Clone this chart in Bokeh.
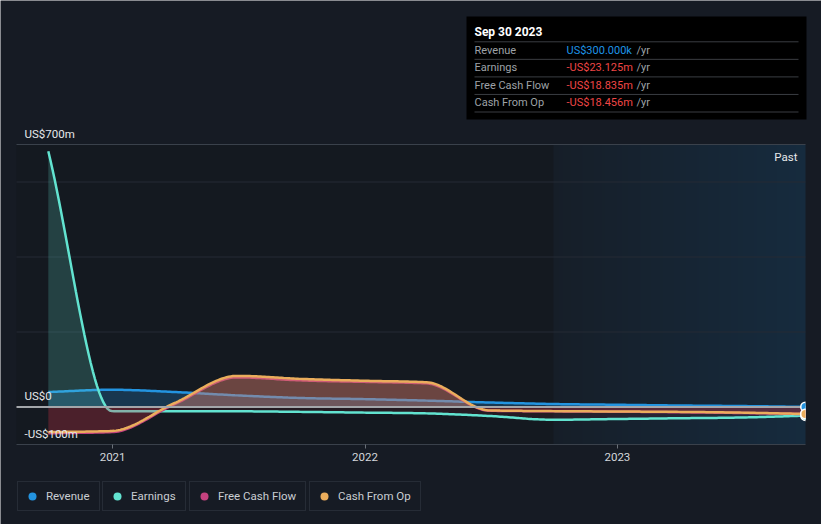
import numpy as np
import pandas as pd
from bokeh.plotting import figure
from bokeh.models import (Range1d, FixedTicker, Legend, LegendItem,
                          DatetimeTickFormatter)
from bokeh.core.properties import value
from bokeh.embed import file_html
from bokeh.resources import INLINE

# ------------------------------------------------------------------ data
quarter_ends = ["2020-09-30", "2020-12-31", "2021-03-31", "2021-06-30",
                "2021-09-30", "2021-12-31", "2022-03-31", "2022-06-30",
                "2022-09-30", "2022-12-31", "2023-03-31", "2023-06-30",
                "2023-09-30"]
revenue = [40, 46, 40, 31, 24, 21, 17, 12, 8, 6, 4, 2.5, 0.3]
earnings = [682, -11, -11.5, -11.5, -13, -15, -17, -24, -34, -32, -30, -28, -23.125]
free_cash_flow = [-70, -67, 7, 79, 71, 67, 63, -10, -11.5, -12.5, -14, -16, -18.835]
cash_from_op = [-67, -64, 10, 83, 75, 70, 66, -9, -11, -12, -13, -15, -18.456]
series_names = ["Revenue", "Earnings", "Free Cash Flow", "Cash From Op"]

y_label_values = [700, 0, -100]
y_label_texts = ["US$700m", "US$0", "-US$100m"]
y_grid_values = [200, 400, 600]
x_tick_years = [2021, 2022, 2023]
x_range_dates = ["2020-08-15", "2023-09-30"]
past_start_date = "2022-09-30"

tooltip_date = "Sep 30 2023"
tooltip_values = ["US$300.000k", "-US$23.125m", "-US$18.835m", "-US$18.456m"]
tooltip_unit = "/yr"

# ------------------------------------------------------------------ style / layout
BG = "#161b24"
PLOT_BG = (20, 25, 32)
PAST_LEFT = (22, 30, 40)
PAST_RIGHT = (22, 43, 62)
COLORS = {"Revenue": "#2394e0", "Earnings": "#62e3d0",
          "Free Cash Flow": "#c4427f", "Cash From Op": "#eaad5c"}
NEG_FILL = "#e0394a"
FONT = "Roboto"

W, H = 821, 524
PLOT_L, PLOT_R = 16, 805                  # pixel columns of the plotting area
PLOT_TOP, PLOT_BOTTOM = 144, 444          # pixel rows of the 700 and -100 lines
Y_MIN, Y_MAX = -100, 700
ppu = (PLOT_BOTTOM - PLOT_TOP) / (Y_MAX - Y_MIN)
y_start = Y_MIN - (H - PLOT_BOTTOM) / ppu
y_end = Y_MAX + PLOT_TOP / ppu


def to_ms(d):
    return pd.to_datetime(d).value / 1e6


x_dates = np.array([to_ms(d) for d in quarter_ends])
x_lo, x_hi = to_ms(x_range_dates[0]), to_ms(x_range_dates[1])
mpp = (x_hi - x_lo) / (PLOT_R - PLOT_L)
x_start = x_lo - PLOT_L * mpp
x_end = x_hi + (W - PLOT_R) * mpp


def smooth_curve(xs, ys, steps=30):
    """Monotone cubic rendering of the polyline (d3 monotoneX style)."""
    x = np.asarray(xs, float)
    y = np.asarray(ys, float)
    n = len(x)
    h = np.diff(x)
    s = np.diff(y) / h
    t = np.zeros(n)
    sg = lambda v: -1.0 if v < 0 else 1.0
    for i in range(1, n - 1):
        h0, h1, s0, s1 = h[i - 1], h[i], s[i - 1], s[i]
        p_ = (s0 * h1 + s1 * h0) / (h0 + h1)
        t[i] = (sg(s0) + sg(s1)) * min(abs(s0), abs(s1), 0.5 * abs(p_))
    t[0] = s[0]
    t[-1] = s[-1]
    out_x, out_y = [], []
    u = np.linspace(0, 1, steps, endpoint=False)
    for i in range(n - 1):
        dx = h[i]
        h00 = 2 * u**3 - 3 * u**2 + 1
        h10 = u**3 - 2 * u**2 + u
        h01 = -2 * u**3 + 3 * u**2
        h11 = u**3 - u**2
        out_x.append(x[i] + u * dx)
        out_y.append(h00 * y[i] + h10 * dx * t[i] + h01 * y[i + 1] + h11 * dx * t[i + 1])
    out_x.append([x[-1]])
    out_y.append([y[-1]])
    return np.concatenate(out_x), np.concatenate(out_y)


p = figure(width=W, height=H, output_backend="svg", toolbar_location=None,
           x_axis_type="datetime",
           x_range=Range1d(x_start, x_end), y_range=Range1d(y_start, y_end),
           min_border_left=0, min_border_right=0,
           min_border_top=0, min_border_bottom=0,
           background_fill_color=BG, border_fill_color=BG,
           outline_line_color=None)
# page-pixel coordinates for the overlay boxes and texts
p.extra_x_ranges = {"px": Range1d(0, W)}
p.extra_y_ranges = {"py": Range1d(H, 0)}

# plot-area background with the "past" gradient, as one seamless image
n_cols = PLOT_R - PLOT_L
col_x = x_lo + (np.arange(n_cols) + 0.5) * mpp
past_x0 = to_ms(past_start_date)
img = np.empty((1, n_cols), dtype=np.uint32)
view = img.view(dtype=np.uint8).reshape((1, n_cols, 4))
for j, cx in enumerate(col_x):
    if cx < past_x0:
        rgb = PLOT_BG
    else:
        f = (cx - past_x0) / (x_hi - past_x0)
        rgb = tuple(int(round(a + (b - a) * f)) for a, b in zip(PAST_LEFT, PAST_RIGHT))
    view[0, j, :3] = rgb
    view[0, j, 3] = 255
p.image_rgba(image=[img], x=x_lo, y=Y_MIN, dw=x_hi - x_lo, dh=Y_MAX - Y_MIN,
             level="image")

# grid lines, top line and bottom axis line (only across the plotting columns)
p.yaxis.visible = False
p.ygrid.visible = False
p.xgrid.visible = False
n_g = len(y_grid_values)
p.segment(x0=[x_lo] * n_g, y0=y_grid_values, x1=[x_hi] * n_g, y1=y_grid_values,
          line_color="#252b34", line_width=1)
p.segment(x0=[x_lo, x_lo], y0=[Y_MAX, Y_MIN], x1=[x_hi, x_hi], y1=[Y_MAX, Y_MIN],
          line_color="#3a414b", line_width=1)

# x axis ticks and labels on the bottom line
xa = p.xaxis[0]
xa.fixed_location = Y_MIN
xa.ticker = FixedTicker(ticks=[to_ms(f"{y}-01-01") for y in x_tick_years])
xa.formatter = DatetimeTickFormatter(years="%Y", months="%Y", days="%Y",
                                     hours="%Y", minutes="%Y")
xa.axis_line_color = None
xa.major_tick_line_color = "#6b7179"
xa.major_tick_out = 4
xa.major_tick_in = 0
xa.minor_tick_line_color = None
xa.major_label_text_color = "#d4d7db"
xa.major_label_text_font = FONT
xa.major_label_text_font_size = "11.5px"
xa.major_label_standoff = 4

# series
series = [("Revenue", revenue, 0.25, 0.0),
          ("Earnings", earnings, 0.2, 0.08),
          ("Free Cash Flow", free_cash_flow, 0.25, 0.15),
          ("Cash From Op", cash_from_op, 0.25, 0.15)]
for name, vals, pos_a, neg_a in series:
    col = COLORS[name]
    xs, ys = smooth_curve(x_dates, vals)
    zeros = np.zeros_like(ys)
    p.varea(x=xs, y1=zeros, y2=np.maximum(ys, 0), fill_color=col, fill_alpha=pos_a)
    if neg_a > 0:
        p.varea(x=xs, y1=np.minimum(ys, 0), y2=zeros, fill_color=NEG_FILL,
                fill_alpha=neg_a)
    p.line(xs, ys, line_color=col, line_width=2.5)

# zero line
p.segment(x0=[x_lo], y0=[0], x1=[x_hi], y1=[0], line_color="#a3a6aa",
          line_width=2)

# end-of-series dots, cut at the right edge of the plotting area
legend_renderers = {}
for name, vals, _, _ in series:
    col = COLORS[name]
    p.wedge(x=[x_dates[-1]], y=[vals[-1]], radius=5.5, radius_units="screen",
            start_angle=np.pi / 2, end_angle=3 * np.pi / 2,
            fill_color="#ffffff", line_color=None)
    p.wedge(x=[x_dates[-1]], y=[vals[-1]], radius=4, radius_units="screen",
            start_angle=np.pi / 2, end_angle=3 * np.pi / 2,
            fill_color=col, line_color=None)
    # marker used only as the legend swatch
    legend_renderers[name] = p.scatter(x=[x_dates[-1]], y=[vals[-1]], size=8,
                                       fill_color=col, line_color=None,
                                       visible=False)

# y value labels inside the plot
p.text(x=[x_lo] * len(y_label_values), y=y_label_values, text=y_label_texts,
       x_offset=8, y_offset=-11, text_baseline="alphabetic",
       text_color="#e6e8ea", text_font=value(FONT), text_font_size="11.5px")

# "Past" label
p.text(x=[PLOT_R - 8], y=[156], text=["Past"], x_range_name="px", y_range_name="py",
       text_align="right", text_baseline="middle", text_color="#e6e8ea",
       text_font=value(FONT), text_font_size="11.5px")

# tooltip box
TT_L, TT_R, TT_T, TT_B = 466, 806, 16, 119
p.quad(left=[TT_L], right=[TT_R], top=[TT_T], bottom=[TT_B], x_range_name="px",
       y_range_name="py", fill_color="#000000", line_color=None)
p.text(x=[TT_L + 8], y=[31], text=[tooltip_date], x_range_name="px",
       y_range_name="py", text_baseline="middle", text_color="#ffffff",
       text_font=value(FONT), text_font_size="12px", text_font_style="bold")
SEP0, ROW = 41.3, 17.55
seps = [SEP0 + i * ROW for i in range(len(series_names) + 1)]
p.segment(x0=[TT_L + 8] * len(seps), y0=seps, x1=[TT_R - 8] * len(seps), y1=seps,
          x_range_name="px", y_range_name="py", line_color="#3a3d42",
          line_width=1)
row_y = [s + 8.4 for s in seps[:-1]]
p.text(x=[TT_L + 8] * len(series_names), y=row_y, text=series_names,
       x_range_name="px", y_range_name="py", text_baseline="middle",
       text_color="#9ea2a7", text_font=value(FONT), text_font_size="11px")
val_colors = ["#1e94e6" if not v.startswith("-") else "#ef4646"
              for v in tooltip_values]
p.text(x=[TT_L + 100] * len(tooltip_values), y=row_y, text=tooltip_values,
       x_range_name="px", y_range_name="py", text_baseline="middle",
       text_color=val_colors, text_font=value(FONT), text_font_size="11px")
p.text(x=[TT_L + 170] * len(tooltip_values), y=row_y,
       text=[tooltip_unit] * len(tooltip_values),
       x_range_name="px", y_range_name="py", text_baseline="middle",
       text_color="#9ea2a7", text_font=value(FONT), text_font_size="11px")

# legend: one boxed legend per series
leg_left = [17, 102, 189, 309]
leg_width = [81, 82, 115, 110]
for name, lx, lw in zip(series_names, leg_left, leg_width):
    leg = Legend(items=[LegendItem(label=name, renderers=[legend_renderers[name]])],
                 location=(lx, 13), orientation="horizontal",
                 padding=4, margin=0, spacing=0,
                 glyph_width=20, glyph_height=20, label_standoff=4,
                 label_height=20, label_width=lw - 32,
                 label_text_font=FONT, label_text_font_size="11.5px",
                 label_text_color="#c9cdd2",
                 inactive_fill_alpha=0.0,
                 border_line_color="#363d47", border_line_width=1,
                 background_fill_color=BG, background_fill_alpha=1)
    p.add_layout(leg)

html = file_html(p, INLINE)
html = html.replace("<body>", '<body style="background-color:%s;">' % BG, 1)
open("out.html", "w").write(html)
